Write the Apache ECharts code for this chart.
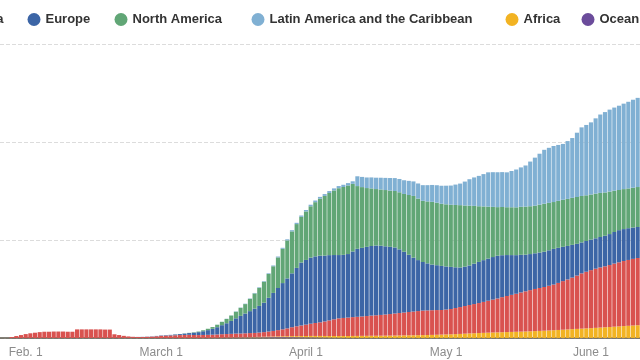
<!DOCTYPE html>
<html>
<head>
<meta charset="utf-8">
<script src="https://cdn.jsdelivr.net/npm/echarts@6/dist/echarts.min.js"></script>
<style>html,body{margin:0;padding:0;background:#fff}#c{width:640px;height:360px}</style>
</head>
<body>
<div id="c"></div>
<script>
// Daily new cases, 7-day average, thousands. Days from Jan 27 to June 11, 2020.
const startDate = [2020, 0, 27];
const dayCount = 137;
const tickLabels = { "2020-02-01": "Feb. 1", "2020-03-01": "March 1", "2020-04-01": "April 1", "2020-05-01": "May 1", "2020-06-01": "June 1" };

const asia = [
  0, 0, 0.5, 1.0, 1.5, 2.0, 2.4, 2.7, 3.0, 3.2,
  3.2, 3.3, 3.3, 3.3, 3.2, 3.2, 4.4, 4.4, 4.4, 4.4,
  4.4, 4.4, 4.3, 4.3, 1.9, 1.5, 1.1, 0.8, 0.6, 0.5,
  0.5, 0.6, 0.7, 0.9, 1.1, 1.2, 1.3, 1.4, 1.5, 1.55,
  1.6, 1.5, 1.45, 1.5, 1.55, 1.6, 1.7, 1.8, 1.85, 1.9,
  2.0, 2.0, 2.05, 2.1, 2.1, 2.2, 2.35, 2.6, 2.85, 3.2,
  3.55, 4.0, 4.55, 5.0, 5.4, 5.8, 6.25, 6.6, 6.95, 7.4,
  7.95, 8.5, 9.0, 9.2, 9.4, 9.6, 9.75, 9.9, 10.1, 10.3,
  10.45, 10.6, 10.8, 11.0, 11.25, 11.45, 11.65, 11.9, 12.1, 12.3,
  12.5, 12.55, 12.6, 12.6, 12.55, 12.7, 12.9, 13.3, 13.7, 14.1,
  14.5, 14.9, 15.3, 15.8, 16.3, 16.8, 17.3, 17.9, 18.4, 18.9,
  19.4, 20.0, 20.5, 21.0, 21.5, 21.9, 22.3, 22.8, 23.3, 24.0,
  24.8, 25.5, 26.3, 27.2, 28.2, 28.9, 29.6, 30.2, 30.7, 31.1,
  31.6, 32.2, 32.7, 33.2, 33.6, 34.0, 34.3
];
const europe = [
  0, 0, 0, 0, 0, 0, 0, 0, 0, 0,
  0, 0, 0, 0, 0, 0, 0, 0, 0, 0,
  0, 0, 0, 0, 0, 0, 0, 0, 0.02, 0.05,
  0.08, 0.1, 0.13, 0.16, 0.2, 0.25, 0.3, 0.4, 0.5, 0.7,
  0.9, 1.2, 1.5, 1.9, 2.4, 3.0, 3.7, 4.6, 5.5, 6.6,
  7.8, 9.0, 10.1, 11.2, 12.4, 13.6, 15.0, 17.2, 19.4, 21.5,
  23.6, 25.5, 27.5, 29.8, 32.1, 33.0, 33.7, 34.0, 34.0, 33.6,
  33.3, 32.8, 32.3, 32.2, 32.4, 33.5, 34.7, 35.0, 35.3, 35.5,
  35.6, 35.3, 34.8, 34.3, 33.7, 32.5, 31.0, 29.2, 27.5, 26.0,
  24.8, 24.0, 23.3, 22.9, 22.5, 22.0, 21.5, 20.8, 20.2, 20.1,
  20.2, 20.6, 21.0, 21.3, 21.5, 21.7, 21.8, 21.4, 20.9, 20.3,
  19.7, 19.2, 18.7, 18.4, 18.2, 18.1, 18.0, 18.1, 18.2, 17.9,
  17.5, 17.1, 16.7, 16.2, 15.8, 15.7, 15.6, 15.5, 15.5, 15.6,
  15.8, 16.1, 16.4, 16.3, 16.2, 16.0, 15.8
];
const northAmerica = [
  0, 0, 0, 0, 0, 0, 0, 0, 0, 0,
  0, 0, 0, 0, 0, 0, 0, 0, 0, 0,
  0, 0, 0, 0, 0, 0, 0, 0, 0, 0,
  0, 0, 0, 0, 0, 0, 0, 0.05, 0.05, 0.08,
  0.1, 0.2, 0.3, 0.5, 0.7, 0.9, 1.25, 1.7, 2.2, 2.75,
  3.35, 4.1, 4.8, 6.25, 7.75, 9.2, 10.7, 12.15, 13.6, 15.6,
  17.5, 19.4, 21.4, 22.35, 23.3, 24.75, 26.2, 27.65, 29.1, 30.45,
  31.7, 32.95, 34.1, 34.6, 35.0, 34.5, 32.0, 31.0, 30.0, 29.4,
  28.8, 28.7, 28.7, 28.7, 28.8, 29.1, 29.5, 30.5, 31.5, 31.4,
  31.2, 31.6, 32.0, 31.9, 31.7, 31.7, 31.7, 31.8, 31.8, 31.2,
  30.5, 29.5, 28.4, 27.4, 26.5, 25.6, 24.8, 24.6, 24.4, 24.4,
  24.4, 24.5, 24.5, 24.4, 24.3, 24.4, 24.5, 24.2, 23.9, 24.0,
  24.0, 24.0, 24.0, 23.9, 23.7, 23.3, 23.0, 22.8, 22.5, 22.1,
  21.7, 21.1, 20.5, 20.4, 20.3, 20.3, 20.4
];
const latinAmerica = [
  0, 0, 0, 0, 0, 0, 0, 0, 0, 0,
  0, 0, 0, 0, 0, 0, 0, 0, 0, 0,
  0, 0, 0, 0, 0, 0, 0, 0, 0, 0,
  0, 0, 0, 0, 0, 0, 0, 0, 0, 0,
  0, 0, 0, 0, 0, 0, 0.05, 0.05, 0.1, 0.1,
  0.15, 0.15, 0.2, 0.2, 0.25, 0.3, 0.3, 0.35, 0.4, 0.45,
  0.5, 0.55, 0.6, 0.65, 0.7, 0.75, 0.8, 0.85, 0.9, 0.95,
  1.0, 1.05, 1.1, 1.15, 1.2, 1.3, 5.0, 5.2, 5.4, 5.6,
  5.8, 6.0, 6.2, 6.4, 6.6, 6.8, 7.0, 7.2, 7.4, 7.7,
  8.0, 8.3, 8.6, 8.9, 9.2, 9.5, 9.8, 10.4, 11.0, 12.2,
  13.5, 14.5, 15.5, 16.5, 17.5, 17.7, 17.8, 17.8, 17.8, 18.5,
  19.3, 20.1, 21.0, 22.8, 24.5, 26.0, 27.5, 28.1, 28.6, 28.5,
  28.5, 29.5, 30.5, 32.8, 35.0, 35.9, 36.8, 38.4, 40.0, 41.0,
  41.8, 42.4, 43.0, 43.6, 44.2, 44.9, 45.5
];
const africa = [
  0, 0, 0, 0, 0, 0, 0, 0, 0, 0,
  0, 0, 0, 0, 0, 0, 0, 0, 0, 0,
  0, 0, 0, 0, 0, 0, 0, 0, 0, 0,
  0, 0, 0, 0, 0, 0, 0, 0, 0, 0,
  0.02, 0.03, 0.04, 0.05, 0.06, 0.07, 0.08, 0.09, 0.1, 0.11,
  0.12, 0.13, 0.15, 0.17, 0.2, 0.25, 0.3, 0.32, 0.35, 0.4,
  0.45, 0.5, 0.55, 0.6, 0.65, 0.7, 0.75, 0.78, 0.8, 0.83,
  0.85, 0.88, 0.9, 0.93, 0.95, 0.98, 1.0, 1.03, 1.05, 1.08,
  1.1, 1.13, 1.15, 1.18, 1.2, 1.25, 1.3, 1.33, 1.35, 1.4,
  1.45, 1.5, 1.55, 1.62, 1.7, 1.78, 1.85, 1.95, 2.05, 2.18,
  2.3, 2.4, 2.5, 2.6, 2.7, 2.78, 2.85, 2.92, 3.0, 3.08,
  3.15, 3.22, 3.3, 3.4, 3.5, 3.6, 3.7, 3.82, 3.95, 4.08,
  4.2, 4.35, 4.5, 4.62, 4.75, 4.88, 5.0, 5.15, 5.3, 5.45,
  5.6, 5.75, 5.9, 6.05, 6.2, 6.35, 6.5
];
const oceania = [
  0, 0, 0, 0, 0, 0, 0, 0, 0, 0,
  0, 0, 0, 0, 0, 0, 0, 0, 0, 0,
  0, 0, 0, 0, 0, 0, 0, 0, 0, 0,
  0, 0, 0, 0, 0, 0, 0, 0, 0, 0,
  0, 0, 0, 0, 0, 0.02, 0.03, 0.05, 0.07, 0.1,
  0.13, 0.16, 0.2, 0.24, 0.28, 0.32, 0.35, 0.38, 0.4, 0.42,
  0.42, 0.41, 0.4, 0.37, 0.35, 0.32, 0.3, 0.27, 0.25, 0.21,
  0.18, 0.15, 0.12, 0.1, 0.08, 0.07, 0.06, 0.06, 0.05, 0.05,
  0.04, 0.04, 0.04, 0.04, 0.04, 0.04, 0.04, 0.04, 0.04, 0.04,
  0.03, 0.03, 0.03, 0.03, 0.03, 0.03, 0.03, 0.03, 0.03, 0.03,
  0.02, 0.02, 0.02, 0.02, 0.02, 0.02, 0.02, 0.02, 0.02, 0.02,
  0.02, 0.02, 0.02, 0.02, 0.02, 0.02, 0.02, 0.02, 0.02, 0.02,
  0.02, 0.02, 0.02, 0.02, 0.02, 0.02, 0.02, 0.02, 0.02, 0.02,
  0.02, 0.02, 0.02, 0.02, 0.02, 0.02, 0.02
];

const seriesNames = ["Asia", "Europe", "North America", "Latin America and the Caribbean", "Africa", "Oceania"];
const colors = {
  "Asia": "#d9524f",
  "Europe": "#3c65a6",
  "North America": "#61a676",
  "Latin America and the Caribbean": "#80b0d3",
  "Africa": "#f2b323",
  "Oceania": "#6b4c9b"
};

function pad(n) { return n < 10 ? "0" + n : "" + n; }
const categories = [];
for (let i = 0; i < dayCount; i++) {
  const d = new Date(startDate[0], startDate[1], startDate[2] + i);
  categories.push(d.getFullYear() + "-" + pad(d.getMonth() + 1) + "-" + pad(d.getDate()));
}

const legendLefts = [-47, 22.5, 109.5, 246.5, 500.5, 576.5];
const legends = seriesNames.map((name, k) => ({
  data: [name],
  left: legendLefts[k],
  top: 8,
  width: 400,
  icon: "circle",
  itemWidth: 13,
  itemHeight: 13,
  selectedMode: false,
  textStyle: { fontFamily: "Liberation Sans", fontWeight: "bold", fontSize: 13, color: "#333" }
}));

const stackOrder = [
  ["Oceania", oceania], ["Africa", africa], ["Asia", asia],
  ["Europe", europe], ["North America", northAmerica], ["Latin America and the Caribbean", latinAmerica]
];

const isTick = (idx, val) => Object.prototype.hasOwnProperty.call(tickLabels, val);

const chart = echarts.init(document.getElementById("c"), null, { renderer: "canvas" });
chart.setOption({
  animation: false,
  backgroundColor: "#fff",
  legend: legends,
  grid: { left: 0, right: 0, top: 44, bottom: 22, containLabel: false },
  xAxis: {
    type: "category",
    data: categories,
    axisLine: { lineStyle: { color: "#5a5448", width: 1.5 } },
    axisTick: { alignWithLabel: true, interval: isTick, length: 5, lineStyle: { color: "#999" } },
    axisLabel: {
      interval: isTick,
      formatter: (v) => tickLabels[v] || "",
      color: "#8c8c8c",
      fontFamily: "Liberation Sans",
      fontSize: 12,
      margin: 9
    }
  },
  yAxis: {
    type: "value",
    min: 0, max: 150, interval: 50,
    axisLabel: { show: false },
    axisLine: { show: false },
    axisTick: { show: false },
    splitLine: { lineStyle: { color: "#dcdcdc", type: "dashed", width: 1 } }
  },
  series: stackOrder.map(([name, data]) => ({
    name: name,
    type: "bar",
    stack: "total",
    data: data,
    barCategoryGap: "12%",
    itemStyle: { color: colors[name] },
    emphasis: { disabled: true }
  }))
});
</script>
</body>
</html>
